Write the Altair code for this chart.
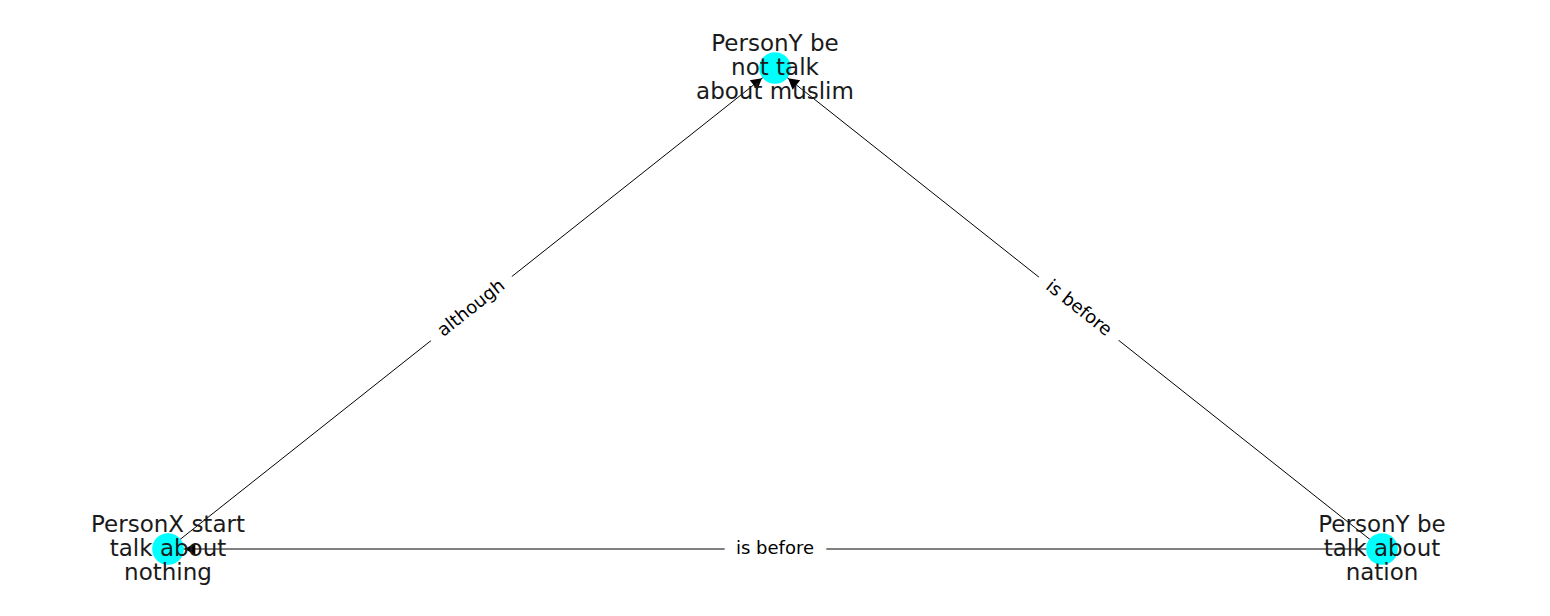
import math
import pandas as pd
import altair as alt

# node layout (pixel-like coordinates)
node_names = ["PersonY be\nnot talk\nabout muslim", "PersonX start\ntalk about\nnothing", "PersonY be\ntalk about\nnation"]
node_x = [775, 168, 1382]
node_y = [68, 549, 549]

edge_src = [1, 2, 2]
edge_dst = [0, 0, 1]
edge_labels = ["although", "is before", "is before"]

nodes = pd.DataFrame({"name": node_names, "x": node_x, "y": node_y})

rows = []
for s, d, lab in zip(edge_src, edge_dst, edge_labels):
    x1, y1, x2, y2 = node_x[s], node_y[s], node_x[d], node_y[d]
    dx, dy = x2 - x1, y2 - y1
    L = math.hypot(dx, dy)
    ux, uy = dx / L, dy / L
    ang = math.degrees(math.atan2(dx, -dy)) % 360
    tang = math.degrees(math.atan2(dy, dx))
    if tang > 90 or tang < -90:
        tang += 180
    rows.append({
        "x": x1, "y": y1, "x2": x2, "y2": y2,
        "ax": x2 - ux * 22, "ay": y2 - uy * 22, "aang": ang,
        "mx": (x1 + x2) / 2, "my": (y1 + y2) / 2, "tang": tang % 360,
        "label": lab,
    })
edges = pd.DataFrame(rows)

X = alt.Scale(domain=[8, 1542])
Y = alt.Scale(domain=[608, 8])

def xe(f):
    return alt.X(f, scale=X, axis=None)

def ye(f):
    return alt.Y(f, scale=Y, axis=None)

lines = alt.Chart(edges).mark_rule(color="black", strokeWidth=1).encode(
    x=xe("x:Q"), y=ye("y:Q"), x2="x2:Q", y2="y2:Q")

arrows = alt.Chart(edges).mark_point(shape="triangle-up", filled=True, color="black",
                                     size=150, opacity=1).encode(
    x=xe("ax:Q"), y=ye("ay:Q"), angle=alt.Angle("aang:Q", scale=None))

lab_bg = alt.Chart(edges).mark_text(fontSize=18, font="DejaVu Sans", stroke="white",
                                    strokeWidth=26, color="white").encode(
    x=xe("mx:Q"), y=ye("my:Q"), text="label:N", angle=alt.Angle("tang:Q", scale=None))
lab = alt.Chart(edges).mark_text(fontSize=18, font="DejaVu Sans", color="black").encode(
    x=xe("mx:Q"), y=ye("my:Q"), text="label:N", angle=alt.Angle("tang:Q", scale=None))

dots = alt.Chart(nodes).mark_circle(color="#00ffff", size=1000, opacity=1).encode(
    x=xe("x:Q"), y=ye("y:Q"))

names = alt.Chart(nodes).mark_text(fontSize=23, font="DejaVu Sans", color="#1a1a1a",
                                   lineBreak="\n", lineHeight=24, baseline="middle",
                                   dy=-24).encode(
    x=xe("x:Q"), y=ye("y:Q"), text="name:N")

chart = alt.layer(lines, arrows, lab_bg, lab, dots, names).properties(
    width=1534, height=600, padding=0, background="white"
).configure_view(strokeWidth=0)

chart.save("out.html", embed_options={"renderer": "svg", "actions": False})
